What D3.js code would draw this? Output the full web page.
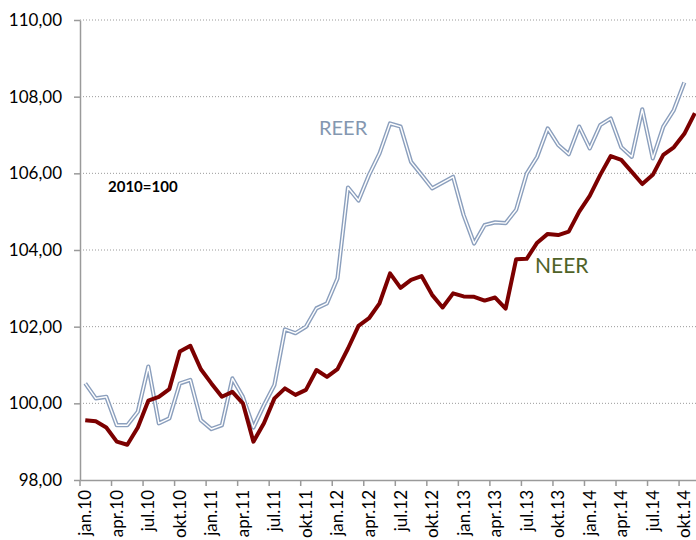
<!DOCTYPE html>
<html>
<head>
<meta charset="utf-8">
<script src="https://cdn.jsdelivr.net/npm/d3@7"></script>
<style>
  body { margin: 0; background: #fff; }
  text { font-family: Lato, "Open Sans", sans-serif; }
</style>
</head>
<body>
<script>
  // DATA
  const monthNames = ["jan", "feb", "mar", "apr", "mai", "jun", "jul", "aug", "sep", "okt", "nov", "des"];
  const years = ["10", "11", "12", "13", "14"];
  const months = [];
  years.forEach(y => monthNames.forEach(m => months.push(m + "." + y)));
  const tickLabels = months.filter((m, i) => i % 3 === 0);
  const yTicks = [98, 100, 102, 104, 106, 108, 110];

  const neer = [99.56, 99.53, 99.37, 99.00, 98.92, 99.37, 100.07, 100.17, 100.37, 101.35, 101.50, 100.89,
    100.52, 100.17, 100.30, 100.00, 99.00, 99.48, 100.13, 100.39, 100.22, 100.35, 100.87, 100.69,
    100.89, 101.43, 102.02, 102.22, 102.61, 103.39, 103.01, 103.22, 103.32, 102.83, 102.50, 102.87,
    102.79, 102.78, 102.68, 102.76, 102.47, 103.76, 103.77, 104.19, 104.42, 104.39, 104.48, 105.00,
    105.41, 105.96, 106.45, 106.35, 106.04, 105.72, 105.96, 106.48, 106.68, 107.03, 107.57];

  const reer = [100.52, 100.13, 100.17, 99.43, 99.43, 99.78, 100.96, 99.48, 99.61, 100.52, 100.61, 99.56,
    99.33, 99.43, 100.65, 100.17, 99.37, 99.95, 100.48, 101.93, 101.83, 102.00, 102.48, 102.61,
    103.26, 105.63, 105.29, 105.96, 106.52, 107.30, 107.22, 106.30, 105.96, 105.61, 105.76, 105.91,
    104.91, 104.17, 104.65, 104.72, 104.70, 105.05, 105.99, 106.43, 107.17, 106.74, 106.50, 107.22,
    106.65, 107.26, 107.43, 106.68, 106.43, 107.67, 106.39, 107.22, 107.65, 108.37];

  // D3
  const svg = d3.select("body").append("svg")
      .attr("width", 696)
      .attr("height", 540);

  const plotLeft = 80, plotTop = 20, plotBottom = 480;
  const step = 10.51;

  const xScale = d3.scaleBand()
      .domain(months)
      .range([plotLeft, plotLeft + step * months.length])
      .padding(0);

  const yScale = d3.scaleLinear()
      .domain([98, 110])
      .range([plotBottom, plotTop]);

  const cx = m => xScale(m) + xScale.bandwidth() / 2;

  // gridlines
  svg.append("g").selectAll("line")
      .data(yTicks.filter(d => d > 98))
      .enter().append("line")
      .attr("x1", plotLeft).attr("x2", 696)
      .attr("y1", d => yScale(d)).attr("y2", d => yScale(d))
      .attr("stroke", "#9a9a9a")
      .attr("stroke-width", 1)
      .attr("stroke-dasharray", "1,2");

  // y axis
  const yAxis = svg.append("g")
      .attr("transform", "translate(" + plotLeft + ",0)")
      .call(d3.axisLeft(yScale).tickValues(yTicks)
        .tickFormat(d => d3.format(".2f")(d).replace(".", ","))
        .tickSize(6).tickSizeOuter(0));
  yAxis.select(".domain").attr("stroke", "#9a9a9a").attr("stroke-width", 1.5);
  yAxis.selectAll(".tick line").attr("stroke", "#9a9a9a").attr("stroke-width", 1.5);
  yAxis.selectAll(".tick text")
      .attr("x", -18)
      .attr("font-size", 17)
      .attr("font-family", "Lato, sans-serif")
      .attr("fill", "#000");

  // x axis
  const xAxis = svg.append("g")
      .attr("transform", "translate(0," + plotBottom + ")")
      .call(d3.axisBottom(xScale).tickValues(tickLabels).tickSize(6).tickSizeOuter(0));
  xAxis.select(".domain").attr("stroke", "#9a9a9a").attr("stroke-width", 1.5);
  xAxis.selectAll(".tick line")
      .attr("x1", -xScale.bandwidth() / 2).attr("x2", -xScale.bandwidth() / 2)
      .attr("stroke", "#9a9a9a").attr("stroke-width", 1.5);
  xAxis.selectAll(".tick text")
      .attr("transform", "translate(0,10) rotate(-90)")
      .attr("x", 0).attr("y", 0)
      .attr("dy", "0.35em")
      .attr("text-anchor", "end")
      .attr("font-size", 17)
      .attr("font-family", "Lato, sans-serif")
      .attr("fill", "#000");

  // lines
  const line = d3.line()
      .x((d, i) => cx(months[i]))
      .y(d => yScale(d));

  svg.append("path").datum(reer)
      .attr("d", line)
      .attr("fill", "none")
      .attr("stroke", "#8b9fbd")
      .attr("stroke-width", 4.2)
      .attr("stroke-linejoin", "round");
  svg.append("path").datum(reer)
      .attr("d", line)
      .attr("fill", "none")
      .attr("stroke", "#fff")
      .attr("stroke-width", 1.4)
      .attr("stroke-linejoin", "round");

  svg.append("path").datum(neer)
      .attr("d", line)
      .attr("fill", "none")
      .attr("stroke", "#7c0000")
      .attr("stroke-width", 4)
      .attr("stroke-linejoin", "round");

  // labels
  svg.append("text")
      .attr("x", 319).attr("y", 135)
      .attr("font-size", 20)
      .attr("fill", "#8497b0")
      .text("REER");

  svg.append("text")
      .attr("x", 535).attr("y", 273)
      .attr("font-size", 21)
      .attr("fill", "#4f6228")
      .text("NEER");

  svg.append("text")
      .attr("x", 108).attr("y", 192)
      .attr("font-size", 15)
      .attr("font-weight", "bold")
      .attr("fill", "#000")
      .text("2010=100");
</script>
</body>
</html>
